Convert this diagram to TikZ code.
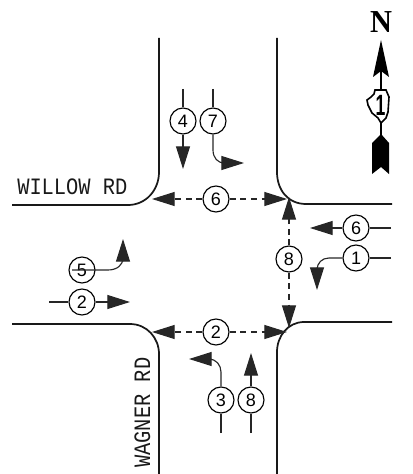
\documentclass[tikz,border=0pt]{standalone}
\usepackage{fontspec}
\setmainfont{Liberation Sans}
\newfontfamily\cadfont{Liberation Mono}
\usetikzlibrary{arrows.meta}
\tikzset{
  x=0.75pt,y=-0.75pt,
  road/.style={line width=1.3pt,black!90},
  flow/.style={line width=0.85pt,black!85,-{Triangle[length=17pt,width=10.5pt]}},
  plainflow/.style={line width=0.85pt,black!85},
  crossing/.style={flow,dash pattern=on 4.5pt off 3.5pt},
  phase/.style={circle,draw=black,line width=0.85pt,minimum size=19.5pt,inner sep=0pt,fill=white,font=\fontsize{13.5}{13.5}\selectfont},
  hollow/.style={phase,fill=none},
  roadname/.style={font=\cadfont\fontsize{15.3}{15.3}\selectfont,text=black!90,inner sep=0pt}
}
\newcommand{\tallname}[1]{\scalebox{1}[1.15]{#1}}
\begin{document}
\begin{tikzpicture}
\useasboundingbox (0,0) rectangle (413,474);
% roads
\draw[road] (159,38) -- (159,172) .. controls (159,190) and (146,205) .. (128,205) -- (12,205);
\draw[road] (277,38) -- (277,172) .. controls (277,190) and (288,204) .. (306,204) -- (392,204);
\draw[road] (12,324) -- (130,324) .. controls (147,324) and (159,338) .. (159,354) -- (159,474);
\draw[road] (392,322) -- (304,322) .. controls (288,322) and (277,336) .. (277,352) -- (277,474);
\node[roadname,anchor=base west] (willow) at (17,194) {\tallname{WILLOW RD}};
\node[roadname,anchor=base west,rotate=90] (wagner) at (150,468) {\tallname{WAGNER RD}};
% 4 and 7
\node[phase] (c4) at (183,121) {4};
\node[phase] (c7) at (213,121) {7};
\coordinate (s4) at (183,89); \coordinate (t4) at (183,169);
\coordinate (s7) at (213,89); \coordinate (t7) at (244,163);
\draw[plainflow] (s4) -- (c4);
\draw[plainflow] (s7) -- (c7);
\draw[flow] (c4) -- (t4);
\draw[flow] (c7) -- (213,150) .. controls (213,158) and (218,163) .. (224,163) -- (t7);
% crossing 6
\node[phase] (c6t) at (216,199) {6};
\coordinate (l6) at (152,199); \coordinate (r6) at (287,199);
\draw[crossing] (c6t) -- (l6);
\draw[crossing] (c6t) -- (r6);
% crossing 2
\node[phase] (c2b) at (216,332) {2};
\coordinate (l2) at (152,332); \coordinate (r2) at (287,332);
\draw[crossing] (c2b) -- (l2);
\draw[crossing] (c2b) -- (r2);
% crossing 8
\node[phase] (c8r) at (289,259) {8};
\coordinate (u8) at (289,197); \coordinate (d8) at (289,328);
\draw[crossing] (c8r) -- (u8);
\draw[crossing] (c8r) -- (d8);
% 5 and 2 left
\node[hollow] (c5) at (82,270) {5};
\coordinate (s5) at (72,270); \coordinate (t5) at (123,239);
\draw[flow] (s5) -- (108,270) .. controls (117,270) and (123,265) .. (123,258) -- (t5);
\node[phase] (c2l) at (82,302) {2};
\coordinate (s2) at (49,302); \coordinate (t2) at (130,302);
\draw[plainflow] (s2) -- (c2l);
\draw[flow] (c2l) -- (t2);
% 3 and 8 bottom
\node[phase] (c3) at (221,400) {3};
\node[phase] (c8b) at (251,400) {8};
\coordinate (s3) at (221,433); \coordinate (t3) at (189,359);
\coordinate (s8) at (251,433); \coordinate (t8) at (251,353);
\draw[plainflow] (s3) -- (c3);
\draw[plainflow] (s8) -- (c8b);
\draw[flow] (c3) -- (221,372) .. controls (221,365) and (216,359) .. (209,359) -- (t3);
\draw[flow] (c8b) -- (t8);
% 6 and 1 right
\node[phase] (c6r) at (356,228) {6};
\node[phase] (c1) at (356,258) {1};
\coordinate (s6) at (391,228); \coordinate (t6) at (310,228);
\coordinate (s1) at (391,258); \coordinate (t1) at (317,290);
\draw[plainflow] (s6) -- (c6r);
\draw[plainflow] (s1) -- (c1);
\draw[flow] (c6r) -- (t6);
\draw[flow] (c1) -- (329,258) .. controls (322,258) and (317,263) .. (317,270) -- (t1);
% north arrow
\node[font=\fontspec{Liberation Serif}\bfseries\fontsize{24}{24}\selectfont,inner sep=0pt,xscale=0.95,transform shape] (north) at (381,22) {N};
\fill (381,40) -- (389,77) -- (381,71) -- (373,77) -- cycle;
\draw[line width=1.1pt] (381,70) -- (381,91);
\draw[line width=1.2pt,fill=white] (375,90) -- (386,90) -- (389,97) -- (388,112) -- (386,118) -- (381,123) -- (378,118) -- (372,113) -- (368,105) -- (367,100) -- (371,97) -- (374,94) -- cycle;
\node[font=\bfseries\fontsize{22}{22}\selectfont,inner sep=0pt,xscale=0.6,transform shape] (one) at (380.5,105) {1};
\draw[line width=1.1pt] (381,123) -- (381,136);
\fill (381,134) -- (389,143) -- (389,174) -- (381,167) -- (372,174) -- (372,143) -- cycle;
\end{tikzpicture}
\end{document}
